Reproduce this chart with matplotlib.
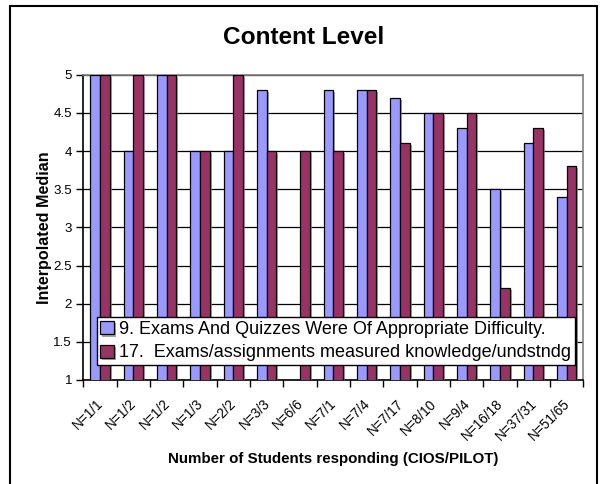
import numpy as np
import matplotlib
matplotlib.use("Agg")
import matplotlib.pyplot as plt
import matplotlib.patheffects as pe
import matplotlib.transforms as mtransforms
from matplotlib.patches import Rectangle

plt.rcParams['font.family'] = ['Liberation Sans', 'DejaVu Sans']

labels = ["N=1/1", "N=1/2", "N=1/2", "N=1/3", "N=2/2", "N=3/3", "N=6/6", "N=7/1",
          "N=7/4", "N=7/17", "N=8/10", "N=9/4", "N=16/18", "N=37/31", "N=51/65"]
q9 = [5, 4, 5, 4, 4, 4.8, np.nan, 4.8, 4.8, 4.7, 4.5, 4.3, 3.5, 4.1, 3.4]
q17 = [5, 5, 5, 4, 5, 4, 4, 4, 4.8, 4.1, 4.5, 4.5, 2.2, 4.3, 3.8]
name9 = "9. Exams And Quizzes Were Of Appropriate Difficulty."
name17 = "17.  Exams/assignments measured knowledge/undstndg"

W, H = 601, 484
fig = plt.figure(figsize=(W / 100, H / 100), dpi=100)

# outer chart frame
fig.patches.append(Rectangle((10 / W, -0.01), 587 / W, 1.01 - 6 / H, transform=fig.transFigure,
                             fill=False, edgecolor='black', linewidth=1.5))

ax = fig.add_axes([83.3 / W, 1 - 380 / H, 500 / W, 305.3 / H])
x = np.arange(len(labels))
bw = 0.29
shadow = [pe.SimplePatchShadow(offset=(1.5, -1.5), shadow_rgbFace='#808080', alpha=0.7), pe.Normal()]
b1 = ax.bar(x - bw / 2, q9, bw, color='#9999FF', edgecolor='black', linewidth=0.9,
            label=name9, zorder=3)
b2 = ax.bar(x + bw / 2, q17, bw, color='#993366', edgecolor='black', linewidth=0.9,
            label=name17, zorder=3)
for b in list(b1) + list(b2):
    b.set_path_effects(shadow)

ax.set_xlim(-0.5, len(labels) - 0.5)
ax.set_ylim(1, 5)
ax.set_yticks(np.arange(1, 5.01, 0.5))
ax.set_yticklabels(["1", "1.5", "2", "2.5", "3", "3.5", "4", "4.5", "5"])
ax.yaxis.grid(True, color='black', linewidth=0.9, zorder=0)
ax.set_axisbelow(True)

ax.set_xticks(x)
ax.set_xticklabels(labels, rotation=45, ha='right', va='top', rotation_mode='anchor')
ax.set_xticks(np.arange(-0.5, len(labels)), minor=True)
ax.tick_params(axis='x', which='major', length=0, pad=12, labelsize=9.8)
ax.tick_params(axis='x', which='minor', length=5, width=1, direction='out')
ax.tick_params(axis='y', length=5, width=1, direction='out', labelsize=9.6, pad=3)

# nudge the slanted labels a little left of the group centre
shift = mtransforms.ScaledTranslation(-0.04, 0, fig.dpi_scale_trans)
for lab in ax.get_xticklabels():
    lab.set_transform(lab.get_transform() + shift)

for s in ['top', 'right']:
    ax.spines[s].set_color('#808080')
    ax.spines[s].set_linewidth(1.2)
for s in ['left', 'bottom']:
    ax.spines[s].set_color('black')
    ax.spines[s].set_linewidth(1.2)

ax.set_ylabel("Interpolated Median", fontsize=11.6, fontweight='bold', labelpad=1)
ax.set_xlabel("Number of Students responding (CIOS/PILOT)", fontsize=10.9, fontweight='bold',
              labelpad=6)
fig.text(304 / W, 1 - 37.5 / H, "Content Level", fontsize=17.6, fontweight='bold',
         ha='center', va='center')

leg = ax.legend(loc='lower left', bbox_to_anchor=(0.027, 0.049), fontsize=13, frameon=True,
                fancybox=False, edgecolor='black', framealpha=1, borderaxespad=0,
                handlelength=0.75, handleheight=0.75, handletextpad=0.3, borderpad=0.2,
                labelspacing=0.35)
leg.get_frame().set_linewidth(1.0)
leg.set_zorder(5)

fig.savefig("out.png", dpi=100)
